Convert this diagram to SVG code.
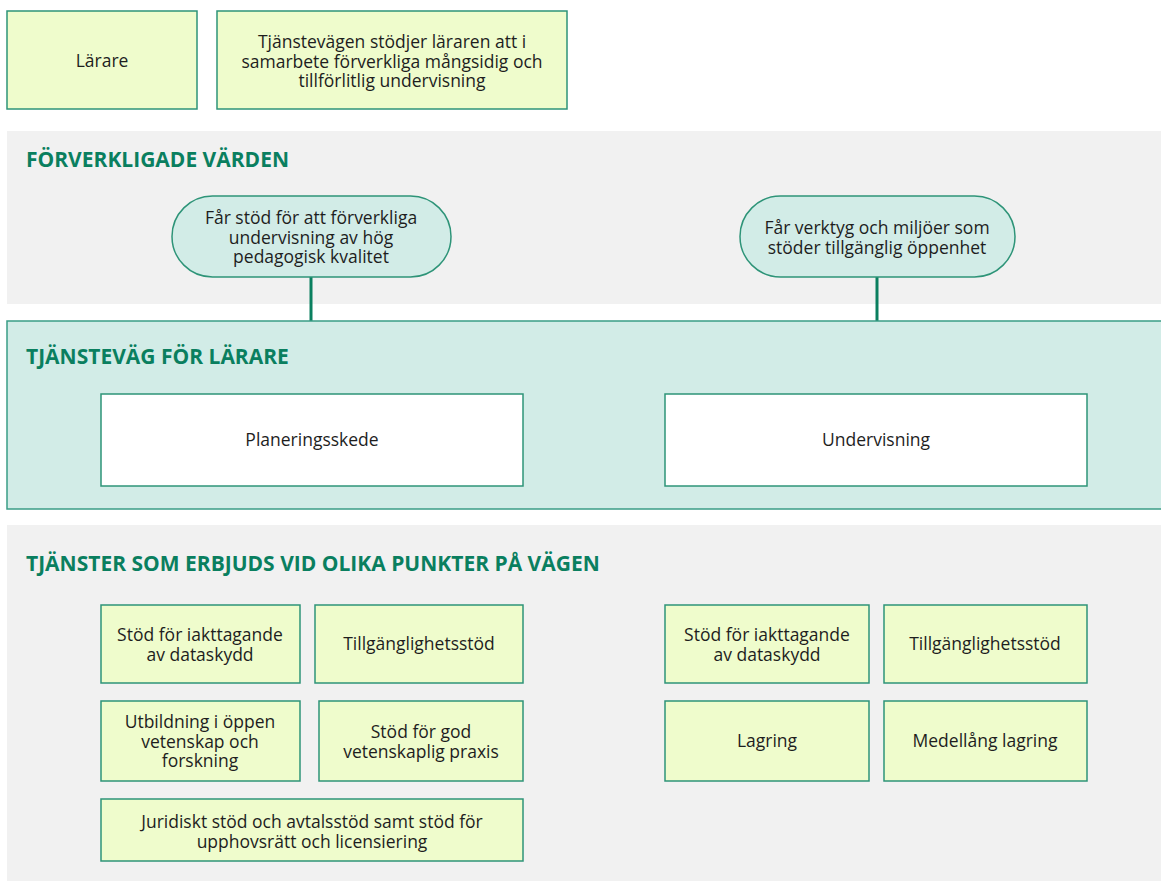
<svg xmlns="http://www.w3.org/2000/svg" width="1161" height="881" viewBox="0 0 1161 881">
<style>
.bg{fill:#f1f1f1}
.lane{fill:#d2ece7;stroke:#3a9d86;stroke-width:1.5}
.box{fill:#effccc;stroke:#2e9478;stroke-width:1.5}
.wbox{fill:#ffffff;stroke:#2e9478;stroke-width:1.5}
.pill{fill:#d2ece7;stroke:#2e9478;stroke-width:1.5}
.t{font-family:"Open Sans","Noto Sans","Liberation Sans",sans-serif;font-size:17.5px;fill:#1e1e1e;text-anchor:middle}
.h{font-family:"Open Sans","Noto Sans","Liberation Sans",sans-serif;font-size:21px;font-weight:bold;fill:#0a7f5f}
.conn{stroke:#0a7f5f;stroke-width:3;fill:none}
</style>
<rect x="0" y="0" width="1161" height="881" fill="#ffffff"/>
<rect class="bg" x="7" y="131" width="1154" height="173"/>
<text class="h" x="26" y="167">FÖRVERKLIGADE VÄRDEN</text>
<g id="connectors">
<line class="conn" x1="311" y1="277" x2="311" y2="321"/>
<line class="conn" x1="877" y1="277" x2="877" y2="321"/>
</g>
<rect class="lane" x="7" y="321" width="1160" height="188"/>
<text class="h" x="26" y="364">TJÄNSTEVÄG FÖR LÄRARE</text>
<rect class="bg" x="7" y="525" width="1154" height="356"/>
<text class="h" x="26" y="571">TJÄNSTER SOM ERBJUDS VID OLIKA PUNKTER PÅ VÄGEN</text>

<g id="larare"><rect class="box" x="7" y="11" width="190" height="98"/><text class="t" x="102" y="67">Lärare</text></g>
<g id="tjanstevagen"><rect class="box" x="217" y="11" width="350" height="98"/><text class="t" x="392" y="48">Tjänstevägen stödjer läraren att i</text><text class="t" x="392" y="67.5">samarbete förverkliga mångsidig och</text><text class="t" x="392" y="87">tillförlitlig undervisning</text></g>

<g id="varde1"><rect class="pill" x="172" y="196" width="279" height="81" rx="40.5"/><text class="t" x="311" y="224">Får stöd för att förverkliga</text><text class="t" x="311" y="243.5">undervisning av hög</text><text class="t" x="311" y="263">pedagogisk kvalitet</text></g>
<g id="varde2"><rect class="pill" x="740" y="196" width="275" height="81" rx="40.5"/><text class="t" x="877" y="234">Får verktyg och miljöer som</text><text class="t" x="877" y="253.5">stöder tillgänglig öppenhet</text></g>

<g id="planering"><rect class="wbox" x="101" y="394" width="422" height="92"/><text class="t" x="312" y="446">Planeringsskede</text></g>
<g id="undervisning"><rect class="wbox" x="665" y="394" width="422" height="92"/><text class="t" x="876" y="446">Undervisning</text></g>

<g id="s1"><rect class="box" x="101" y="605" width="199" height="78"/><text class="t" x="200" y="641">Stöd för iakttagande</text><text class="t" x="200" y="660.5">av dataskydd</text></g>
<g id="s2"><rect class="box" x="315" y="605" width="208" height="78"/><text class="t" x="419" y="650">Tillgänglighetsstöd</text></g>
<g id="s3"><rect class="box" x="101" y="701" width="199" height="80"/><text class="t" x="200" y="728">Utbildning i öppen</text><text class="t" x="200" y="747.5">vetenskap och</text><text class="t" x="200" y="767">forskning</text></g>
<g id="s4"><rect class="box" x="319" y="701" width="204" height="80"/><text class="t" x="421" y="738">Stöd för god</text><text class="t" x="421" y="757.5">vetenskaplig praxis</text></g>
<g id="s5"><rect class="box" x="101" y="799" width="422" height="62"/><text class="t" x="312" y="828">Juridiskt stöd och avtalsstöd samt stöd för</text><text class="t" x="312" y="847.5">upphovsrätt och licensiering</text></g>

<g id="s6"><rect class="box" x="665" y="605" width="204" height="78"/><text class="t" x="767" y="641">Stöd för iakttagande</text><text class="t" x="767" y="660.5">av dataskydd</text></g>
<g id="s7"><rect class="box" x="884" y="605" width="203" height="78"/><text class="t" x="985" y="650">Tillgänglighetsstöd</text></g>
<g id="s8"><rect class="box" x="665" y="701" width="204" height="80"/><text class="t" x="767" y="747">Lagring</text></g>
<g id="s9"><rect class="box" x="884" y="701" width="203" height="80"/><text class="t" x="985" y="747">Medellång lagring</text></g>
</svg>
